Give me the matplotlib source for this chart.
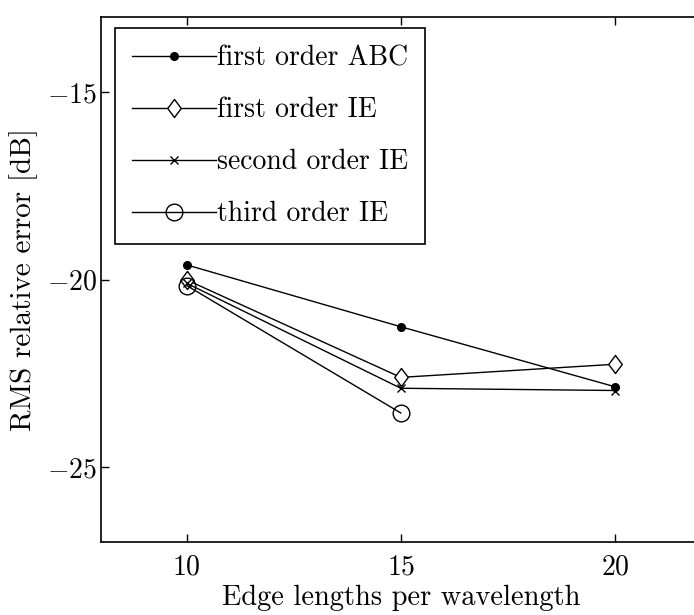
import matplotlib
matplotlib.use("Agg")
import matplotlib.pyplot as plt
from matplotlib.path import Path

plt.rcParams['font.family'] = ['cmr10', 'DejaVu Serif']
plt.rcParams['mathtext.fontset'] = 'cm'
plt.rcParams['axes.formatter.use_mathtext'] = True

x_abc = [10, 15, 20]
y_abc = [-19.61, -21.26, -22.86]
x_ie1 = [10, 15, 20]
y_ie1 = [-20.01, -22.61, -22.26]
x_ie2 = [10, 15, 20]
y_ie2 = [-20.10, -22.90, -22.96]
x_ie3 = [10, 15]
y_ie3 = [-20.16, -23.56]

labels = ['first order ABC', 'first order IE', 'second order IE', 'third order IE']
xticks = [10, 15, 20]
yticks = [-25, -20, -15]

diamond = Path([(0, 1), (0.75, 0), (0, -1), (-0.75, 0), (0, 1)],
               [Path.MOVETO, Path.LINETO, Path.LINETO, Path.LINETO, Path.CLOSEPOLY])

fig = plt.figure(figsize=(6.94, 6.15), dpi=100)
ax = fig.add_axes([101/694, 73/615, (700.6-101)/694, (542-17)/615])

ax.plot(x_abc, y_abc, color='black', lw=1.0, marker='o', ms=5.5, mfc='black', mec='black', label=labels[0])
ax.plot(x_ie1, y_ie1, color='black', lw=1.0, marker=diamond, ms=13, mfc='white', mec='black', mew=1.0, label=labels[1])
ax.plot(x_ie2, y_ie2, color='black', lw=1.0, marker='x', ms=6, mec='black', mew=1.0, label=labels[2])
ax.plot(x_ie3, y_ie3, color='black', lw=1.0, marker='o', ms=12, mfc='none', mec='black', mew=1.0, label=labels[3])

ax.set_xlim(8, 22)
ax.set_ylim(-27, -13)
ax.set_xticks(xticks)
ax.set_yticks(yticks)
ax.tick_params(direction='in', length=6, width=1, top=True, right=False, labelsize=20)
ax.tick_params(axis='x', pad=9)
ax.tick_params(axis='y', pad=3)
for s in ax.spines.values():
    s.set_linewidth(1.2)

ax.set_xlabel('Edge lengths per wavelength', fontsize=20.5, labelpad=3)
ax.set_ylabel('RMS relative error [dB]', fontsize=21, labelpad=6)

leg = ax.legend(loc='upper left', bbox_to_anchor=(0.0233, 0.979), borderaxespad=0,
                fontsize=20, handlelength=3.0, handletextpad=0.05, labelspacing=0.92,
                borderpad=0.62, fancybox=False, framealpha=1, edgecolor='black')
leg.get_frame().set_linewidth(1.2)

fig.savefig('out.png', dpi=100)
